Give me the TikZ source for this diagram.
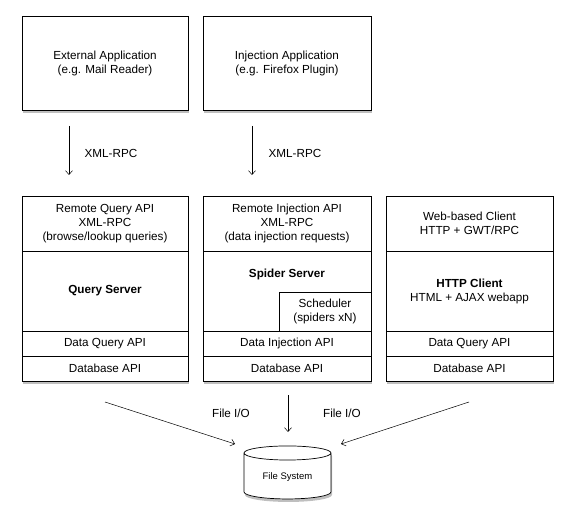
\documentclass[tikz,border=0pt]{standalone}
\usepackage{fontspec}
\setmainfont{Liberation Sans}
\usetikzlibrary{arrows.meta,shapes.geometric,shadows}

\begin{document}
\begin{tikzpicture}[x=1pt, y=-1pt,
  font=\fontsize{11.7}{14}\selectfont,
  frame/.style={draw, fill=white, line width=0.7pt, inner sep=0pt, drop shadow={shadow xshift=1pt, shadow yshift=-3pt, opacity=0.5}},
  part/.style={draw, fill=white, line width=0.7pt, inner sep=0pt, align=center},
  flow/.style={-{Straight Barb[length=4pt,width=7pt]}, line width=0.5pt}]

\useasboundingbox (0,0) rectangle (574,524);

\node[frame, align=center, minimum width=166, minimum height=94] (ext) at (105,63) {External Application\\(e.g. Mail Reader)};
\node[frame, align=center, minimum width=168, minimum height=94] (inj) at (287,63) {Injection Application\\(e.g. Firefox Plugin)};

\foreach \n/\xa/\xb/\t in {q/22/188/Data Query API, s/203/371/Data Injection API, h/386/553/Data Query API}{
  \node[frame, minimum width=\xb-\xa, minimum height=185] (\n frame) at ({(\xa+\xb)/2},288.5) {};
  \node[part, minimum width=\xb-\xa, minimum height=25] (\n dq) at ({(\xa+\xb)/2},343.5) {\t};
  \node[part, minimum width=\xb-\xa, minimum height=25] (\n db) at ({(\xa+\xb)/2},368.5) {Database API};
}

\node[part, minimum width=166, minimum height=55] (qapi) at (105,223.5) {Remote Query API\\XML-RPC\\(browse/lookup queries)};
\node[part, minimum width=166, minimum height=80] (qsrv) at (105,291) {\textbf{Query Server}};

\node[part, minimum width=168, minimum height=55] (sapi) at (287,223.5) {Remote Injection API\\XML-RPC\\(data injection requests)};
\node[part, minimum width=168, minimum height=80] (ssrv) at (287,291) {};
\node[font=\fontsize{11.7}{14}\selectfont\bfseries] (stitle) at (287,274) {Spider Server};
\node[part, minimum width=92, minimum height=39] (sched) at (325,311.5) {Scheduler\\(spiders xN)};

\node[part, minimum width=167, minimum height=55] (hapi) at (469.5,223.5) {Web-based Client\\HTTP + GWT/RPC};
\node[part, minimum width=167, minimum height=80] (hsrv) at (469.5,291) {\textbf{HTTP Client}\\HTML + AJAX webapp};

\node[cylinder, draw, fill=white, line width=0.7pt, shape border rotate=90, aspect=0.25, minimum width=87, minimum height=53, font=\fontsize{9.5}{11}\selectfont, drop shadow={shadow xshift=1pt, shadow yshift=-3pt, opacity=0.5}] (fs) at (287.5,477.5) {File System};

\coordinate (e1) at (69,126);
\coordinate (e2) at (69,175);
\coordinate (i1) at (252,126);
\coordinate (i2) at (252,175);
\draw[flow] (e1) -- (e2);
\draw[flow] (i1) -- (i2);
\node (xml1) at (111,153) {XML-RPC};
\node (xml2) at (295,153) {XML-RPC};

\coordinate (f1) at (105,402);
\coordinate (f2) at (235,444);
\coordinate (f3) at (288,395);
\coordinate (f4) at (288,432);
\coordinate (f5) at (469,402);
\coordinate (f6) at (341,444);
\draw[flow] (f1) -- (f2);
\draw[flow] (f3) -- (f4);
\draw[flow] (f5) -- (f6);
\node (io1) at (231,413) {File I/O};
\node (io2) at (342,413) {File I/O};
\end{tikzpicture}
\end{document}
